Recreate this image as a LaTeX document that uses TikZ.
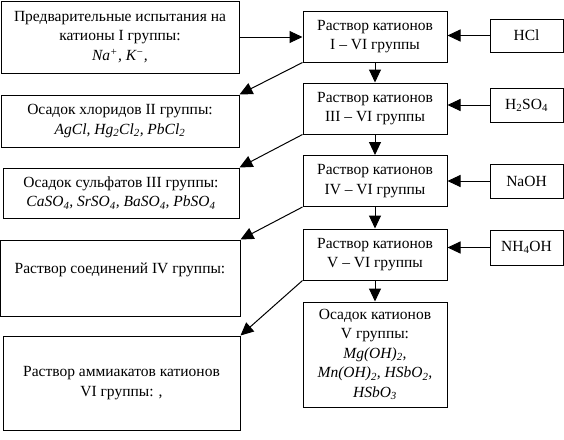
\documentclass[tikz,border=0pt]{standalone}
\usepackage{fontspec}
\setmainfont{Liberation Serif}
\usetikzlibrary{arrows.meta}

\begin{document}
\begin{tikzpicture}[x=1pt, y=-1pt,
    box/.style={rectangle, draw=black, line width=1pt, align=center, inner sep=1pt,
      font=\fontsize{15.5}{19.5}\selectfont},
    arr/.style={line width=1pt, -{Triangle[length=13pt,width=12pt]}}]
    \useasboundingbox (0,0) rectangle (564,439);
    \def\colX{375}
    \def\regX{526.5}
    % left column
    \node[box, minimum width=238pt, minimum height=72pt] (prelim) at (120,37)
      {Предварительные испытания на\\ катионы I группы:\\
       \textit{Na\textsuperscript{+}, K\textsuperscript{−},}};
    \node[box, minimum width=238pt, minimum height=52pt] (chlor) at (120,121)
      {Осадок хлоридов II группы:\\
       \textit{AgCl, Hg\textsubscript{2}Cl\textsubscript{2}, PbCl\textsubscript{2}}};
    \node[box, minimum width=236pt, minimum height=50pt] (sulf) at (121,193)
      {Осадок сульфатов III группы:\\
       \textit{CaSO\textsubscript{4}, SrSO\textsubscript{4}, BaSO\textsubscript{4}, PbSO\textsubscript{4}}};
    \node[box, minimum width=240pt, minimum height=76pt] (groupIV) at (120,278)
      {Раствор соединений IV группы:\\ \mbox{}};
    \node[box, minimum width=237pt, minimum height=94pt] (ammin) at (121.5,383)
      {Раствор аммиакатов катионов\\ VI группы: ,};
    % middle column
    \foreach \n/\y/\grp in {1/36.5/{I -- VI}, 2/108.5/{III -- VI}, 3/181/{IV -- VI}, 4/254.5/{V -- VI}} {
      \node[box, minimum width=144pt, minimum height=51pt] (sol\n) at (\colX,\y)
        {Раствор катионов\\ \grp{} группы};
    }
    \node[box, minimum width=144pt, minimum height=105pt] (precV) at (\colX,354.5)
      {Осадок катионов\\ V группы:\\ \textit{Mg(OH)\textsubscript{2},}\\
       \textit{Mn(OH)\textsubscript{2}, HSbO\textsubscript{2},}\\ \textit{HSbO\textsubscript{3}}};
    % reagents
    \foreach \n/\y/\h/\reag in {1/35.5/33/HCl, 2/105/34/{H\textsubscript{2}SO\textsubscript{4}},
        3/181/34/NaOH, 4/247.5/35/{NH\textsubscript{4}OH}} {
      \node[box, minimum width=73pt, minimum height=\h pt] (reag\n) at (\regX,\y) {\reag};
      \draw[arr] (reag\n.west) -- (reag\n.west -| sol\n.east);
    }
    % connectors
    \draw[arr] (prelim.east) -- (prelim.east -| sol1.west);
    \draw[arr] (sol1) -- (sol2);
    \draw[arr] (sol2) -- (sol3);
    \draw[arr] (sol3) -- (sol4);
    \draw[arr] (sol4) -- (precV);
    \draw[arr] (sol1.south west) -- (chlor.north east);
    \draw[arr] (sol2.south west) -- (sulf.north east);
    \draw[arr] (sol3.south west) -- (groupIV.north east);
    \draw[arr] (sol4.south west) -- (ammin.north east);
\end{tikzpicture}
\end{document}
